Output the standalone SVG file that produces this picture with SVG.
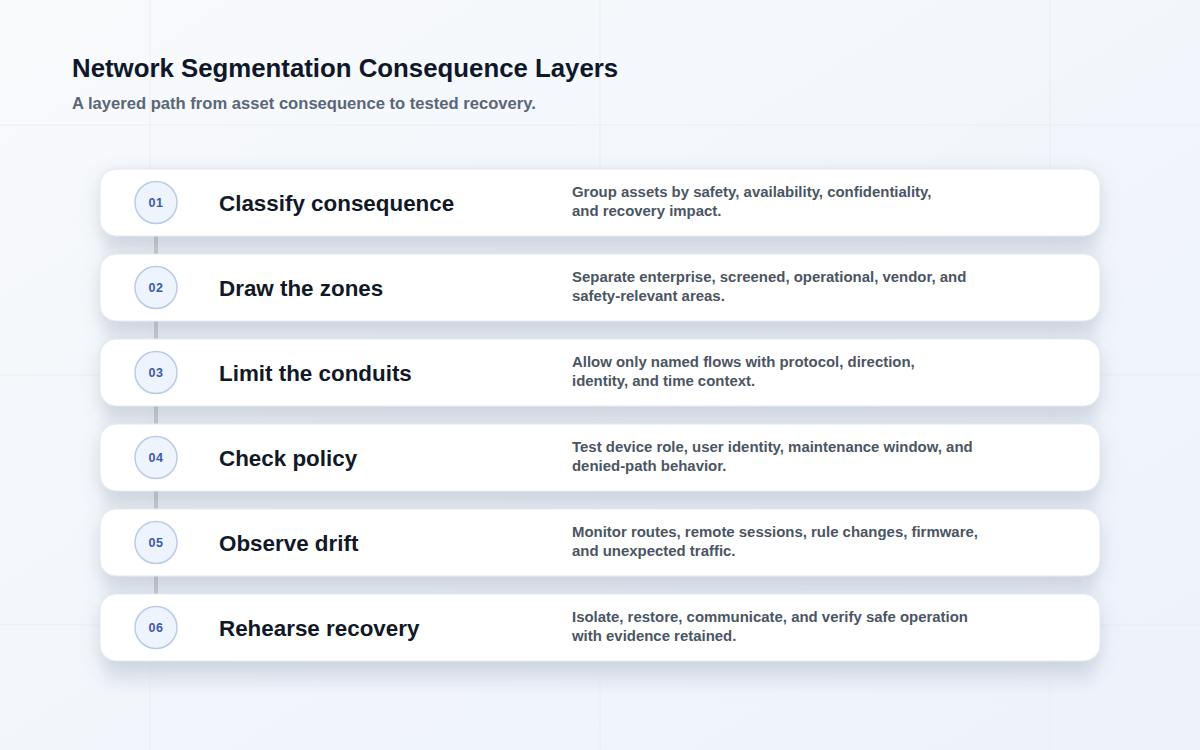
<svg xmlns="http://www.w3.org/2000/svg" width="1200" height="750" viewBox="0 0 1200 750">
<defs>
<linearGradient id="bg" x1="0" y1="0" x2="1" y2="1">
<stop offset="0" stop-color="#f8fafc"/>
<stop offset="1" stop-color="#edf2fb"/>
</linearGradient>
<filter id="sh" x="-10%" y="-50%" width="120%" height="220%">
<feDropShadow dx="0" dy="8" stdDeviation="10" flood-color="#64748b" flood-opacity="0.22"/>
</filter>
<filter id="panelblur" x="-10%" y="-10%" width="120%" height="120%">
<feGaussianBlur stdDeviation="6"/>
</filter>
</defs>
<style>
.title{font-family:"Liberation Sans",Arial,sans-serif;font-weight:700;font-size:25.8px;fill:#0f172a}
.sub{font-family:"Liberation Sans",Arial,sans-serif;font-weight:700;font-size:16.6px;fill:#5b6678}
.card{fill:#ffffff;stroke:#e2e8f0;stroke-width:1}
.badge{fill:#eef4fd;stroke:#b9cbe8;stroke-width:1.5}
.num{font-family:"Liberation Sans",Arial,sans-serif;font-weight:700;font-size:12.5px;fill:#3a5aa8;text-anchor:middle;letter-spacing:0.6px}
.head{font-family:"Liberation Sans",Arial,sans-serif;font-weight:700;font-size:22.4px;fill:#111827}
.desc{font-family:"Liberation Sans",Arial,sans-serif;font-weight:700;font-size:14.95px;fill:#4b5563}
.grid{stroke:#e9edf4;stroke-width:1}
.link{stroke:#c4c8d0;stroke-width:4}
</style>
<rect width="1200" height="750" fill="url(#bg)"/>
<g id="grid">
<line class="grid" x1="150" y1="0" x2="150" y2="750"/>
<line class="grid" x1="600" y1="0" x2="600" y2="750"/>
<line class="grid" x1="1050" y1="0" x2="1050" y2="750"/>
<line class="grid" x1="0" y1="125" x2="1200" y2="125"/>
<line class="grid" x1="0" y1="375" x2="1200" y2="375"/>
<line class="grid" x1="0" y1="625" x2="1200" y2="625"/>
</g>
<g id="header">
<text class="title" x="72" y="77">Network Segmentation Consequence Layers</text>
<text class="sub" x="72" y="109">A layered path from asset consequence to tested recovery.</text>
</g>
<rect x="104" y="170" width="992" height="516" rx="6" fill="#dfe4ee" opacity="0.6" filter="url(#panelblur)"/>
<g id="connectors">
<line class="link" x1="156" y1="224" x2="156" y2="266"/>
<line class="link" x1="156" y1="309" x2="156" y2="351"/>
<line class="link" x1="156" y1="394" x2="156" y2="436"/>
<line class="link" x1="156" y1="479" x2="156" y2="521"/>
<line class="link" x1="156" y1="564" x2="156" y2="606"/>
</g>
<g id="step-01">
<rect class="card" x="100" y="169" width="1000" height="67" rx="16" filter="url(#sh)"/>
<circle class="badge" cx="156" cy="202.5" r="21"/>
<text class="num" x="156" y="207">01</text>
<text class="head" x="219" y="211">Classify consequence</text>
<text class="desc" x="572" y="197">Group assets by safety, availability, confidentiality,</text>
<text class="desc" x="572" y="216">and recovery impact.</text>
</g>
<g id="step-02">
<rect class="card" x="100" y="254" width="1000" height="67" rx="16" filter="url(#sh)"/>
<circle class="badge" cx="156" cy="287.5" r="21"/>
<text class="num" x="156" y="292">02</text>
<text class="head" x="219" y="296">Draw the zones</text>
<text class="desc" x="572" y="282">Separate enterprise, screened, operational, vendor, and</text>
<text class="desc" x="572" y="301">safety-relevant areas.</text>
</g>
<g id="step-03">
<rect class="card" x="100" y="339" width="1000" height="67" rx="16" filter="url(#sh)"/>
<circle class="badge" cx="156" cy="372.5" r="21"/>
<text class="num" x="156" y="377">03</text>
<text class="head" x="219" y="381">Limit the conduits</text>
<text class="desc" x="572" y="367">Allow only named flows with protocol, direction,</text>
<text class="desc" x="572" y="386">identity, and time context.</text>
</g>
<g id="step-04">
<rect class="card" x="100" y="424" width="1000" height="67" rx="16" filter="url(#sh)"/>
<circle class="badge" cx="156" cy="457.5" r="21"/>
<text class="num" x="156" y="462">04</text>
<text class="head" x="219" y="466">Check policy</text>
<text class="desc" x="572" y="452">Test device role, user identity, maintenance window, and</text>
<text class="desc" x="572" y="471">denied-path behavior.</text>
</g>
<g id="step-05">
<rect class="card" x="100" y="509" width="1000" height="67" rx="16" filter="url(#sh)"/>
<circle class="badge" cx="156" cy="542.5" r="21"/>
<text class="num" x="156" y="547">05</text>
<text class="head" x="219" y="551">Observe drift</text>
<text class="desc" x="572" y="537">Monitor routes, remote sessions, rule changes, firmware,</text>
<text class="desc" x="572" y="556">and unexpected traffic.</text>
</g>
<g id="step-06">
<rect class="card" x="100" y="594" width="1000" height="67" rx="16" filter="url(#sh)"/>
<circle class="badge" cx="156" cy="627.5" r="21"/>
<text class="num" x="156" y="632">06</text>
<text class="head" x="219" y="636">Rehearse recovery</text>
<text class="desc" x="572" y="622">Isolate, restore, communicate, and verify safe operation</text>
<text class="desc" x="572" y="641">with evidence retained.</text>
</g>
</svg>
